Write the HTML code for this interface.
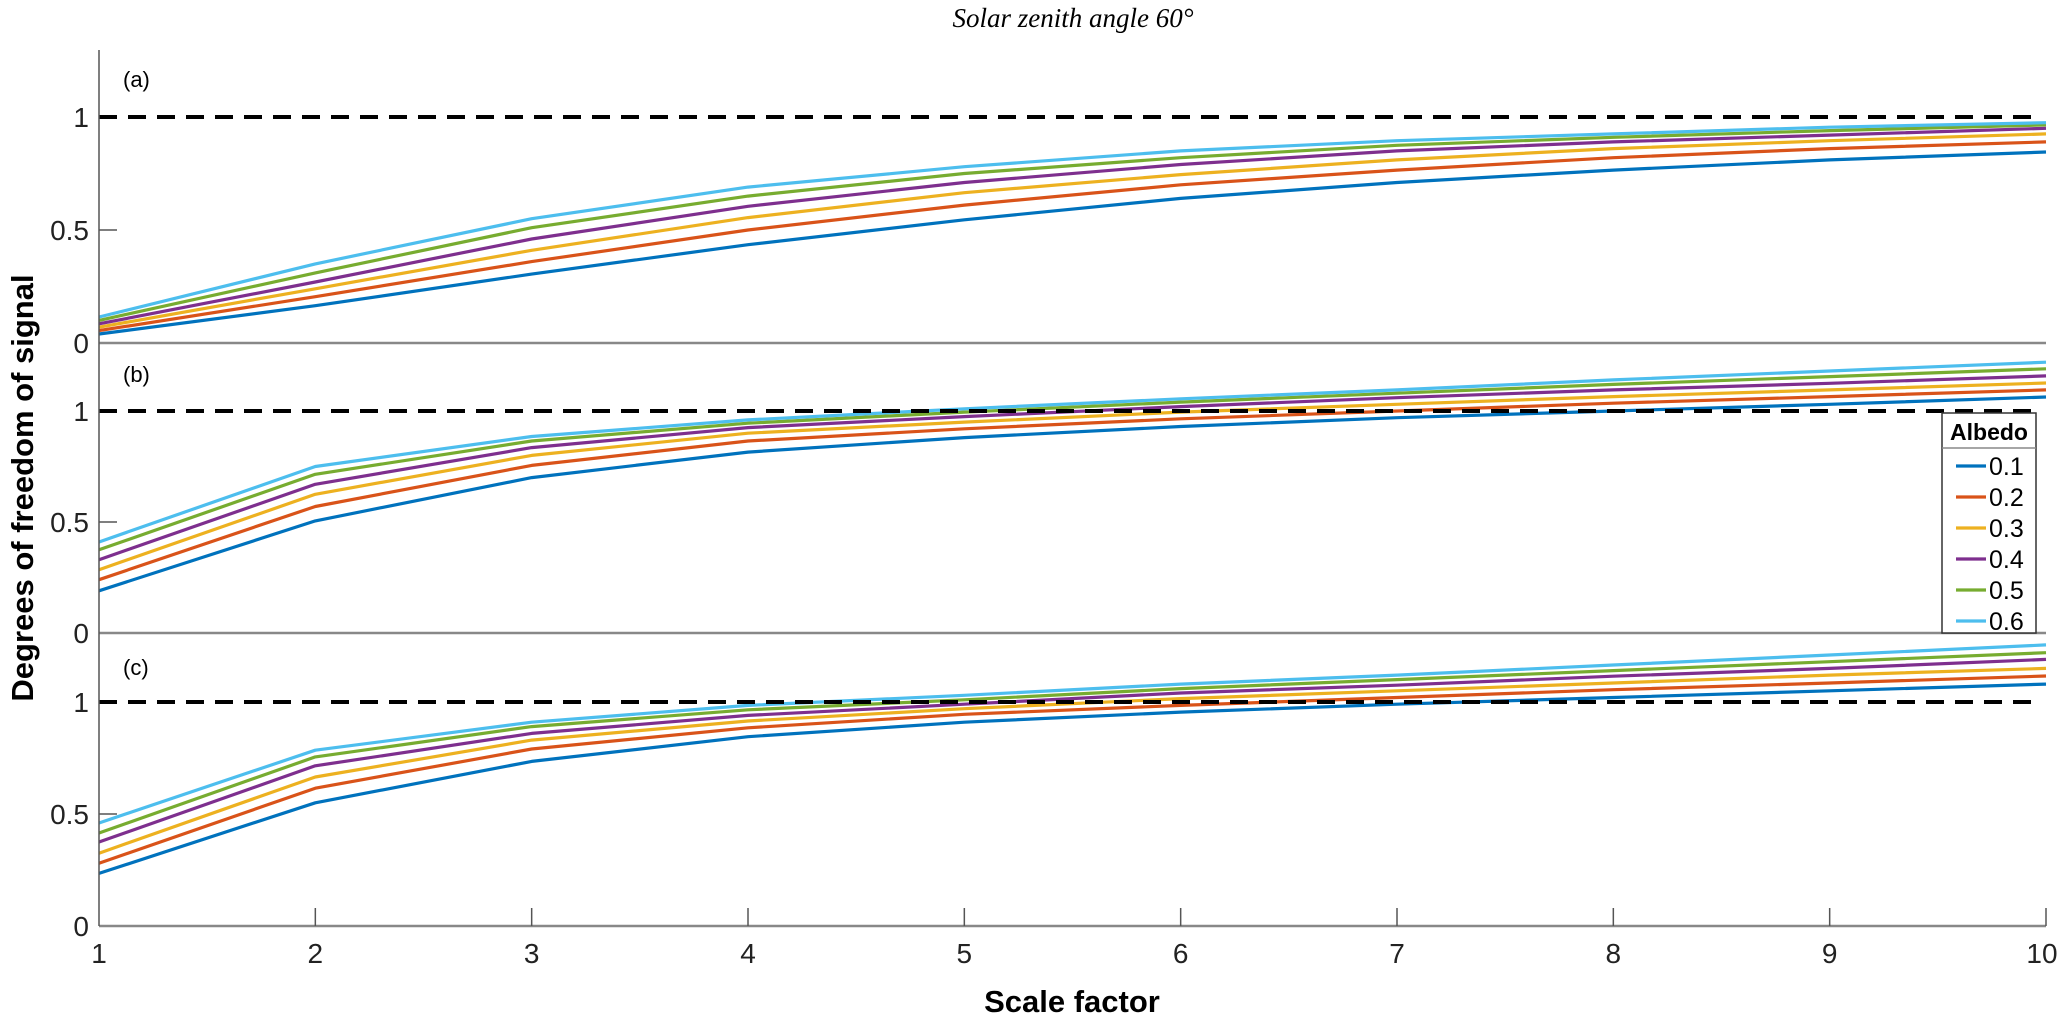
<!DOCTYPE html>
<html><head><meta charset="utf-8"><style>
html,body{margin:0;padding:0;background:#fff;}
svg{display:block;font-family:"Liberation Sans",sans-serif;}
</style></head><body>
<svg id="chart" width="2067" height="1017" viewBox="0 0 2067 1017" xmlns="http://www.w3.org/2000/svg">
<text x="1073" y="27" text-anchor="middle" font-family="Liberation Serif, serif" font-style="italic" font-size="27">Solar zenith angle 60°</text>
<text transform="translate(33,488) rotate(-90)" text-anchor="middle" font-weight="bold" font-size="31">Degrees of freedom of signal</text>
<text x="1072" y="1012" text-anchor="middle" font-weight="bold" font-size="31">Scale factor</text>
<g id="plots"></g>
</svg>
<script>
const xValues = [1,2,3,4,5,6,7,8,9,10];
const albedoLabels = ['0.1','0.2','0.3','0.4','0.5','0.6'];
const xTickLabels = ['1','2','3','4','5','6','7','8','9','10'];
const yTickLabels = ['0','0.5','1'];
const panelLabels = ['(a)','(b)','(c)'];
const panelA = [
 [0.04,0.165,0.305,0.435,0.545,0.64,0.71,0.765,0.81,0.845],
 [0.055,0.205,0.36,0.5,0.61,0.70,0.765,0.82,0.86,0.89],
 [0.07,0.24,0.41,0.555,0.665,0.745,0.81,0.86,0.895,0.925],
 [0.085,0.27,0.46,0.605,0.71,0.79,0.85,0.89,0.92,0.95],
 [0.10,0.31,0.51,0.65,0.75,0.82,0.875,0.91,0.94,0.965],
 [0.115,0.35,0.55,0.69,0.78,0.85,0.895,0.925,0.955,0.975]
];
const panelB = [
 [0.19,0.505,0.70,0.815,0.88,0.93,0.97,1.0,1.03,1.063],
 [0.24,0.57,0.755,0.865,0.92,0.965,1.0,1.035,1.065,1.095],
 [0.285,0.625,0.80,0.90,0.95,0.995,1.03,1.065,1.095,1.126],
 [0.33,0.67,0.835,0.925,0.975,1.02,1.06,1.095,1.125,1.158],
 [0.375,0.715,0.865,0.945,0.995,1.04,1.08,1.12,1.155,1.19],
 [0.41,0.75,0.885,0.96,1.01,1.055,1.095,1.14,1.18,1.22]
];
const panelC = [
 [0.235,0.55,0.735,0.845,0.91,0.955,0.99,1.02,1.05,1.08],
 [0.28,0.615,0.79,0.885,0.945,0.985,1.02,1.055,1.085,1.116],
 [0.325,0.665,0.83,0.915,0.97,1.015,1.05,1.085,1.12,1.15],
 [0.375,0.715,0.86,0.94,0.99,1.04,1.075,1.115,1.15,1.19],
 [0.415,0.755,0.89,0.965,1.01,1.06,1.10,1.14,1.18,1.22],
 [0.46,0.785,0.91,0.985,1.03,1.08,1.12,1.165,1.21,1.255]
];
const referenceLevel = 1;

const colors = ['#0072BD','#D95319','#EDB120','#7E2F8E','#77AC30','#4DBEEE'];
const NS = 'http://www.w3.org/2000/svg';
const g = document.getElementById('plots');
const X0 = 99, XU = (2046-99)/9;
const xScale = v => X0 + (v-1)*XU;
const panels = [
 {data: panelA, zero: 343, unit: 226, top: 50, name: 'a'},
 {data: panelB, zero: 633, unit: 222, top: 345, name: 'b'},
 {data: panelC, zero: 926, unit: 224, top: 638, name: 'c'}
];
function mk(tag, attrs, parent){
  const e = document.createElementNS(NS, tag);
  for (const k in attrs) e.setAttribute(k, attrs[k]);
  (parent||g).appendChild(e); return e;
}
panels.forEach((p, pi) => {
  const yScale = v => p.zero - v*p.unit;
  const pg = mk('g', {});
  
  
  const base = mk('line', {x1: X0, x2: 2046, y1: p.zero, y2: p.zero, stroke: '#888', 'stroke-width': 2.5}, pg);
  
  
  yTickLabels.forEach((t, i) => {
    const v = parseFloat(t), y = yScale(v);
    if (v === 0.5) {
      const tk = mk('line', {x1: X0, x2: X0+18, y1: y, y2: y, stroke: '#555', 'stroke-width': 1.5}, pg);
      
      
    }
    const tx = mk('text', {x: X0-10, y: y+10, 'text-anchor': 'end', 'font-size': 28, fill: '#222'}, pg);
    tx.textContent = t;
    
    
  });
  const pl = mk('text', {x: 123, y: p.top + 37, 'font-size': 22}, pg);
  pl.textContent = panelLabels[pi];
  
  
  p.data.forEach((s, si) => {
    const pts = s.map((v, i) => xScale(xValues[i]).toFixed(1) + ',' + yScale(v).toFixed(1)).join(' ');
    const pl2 = mk('polyline', {points: pts, fill: 'none', stroke: colors[si], 'stroke-width': 3.2, 'stroke-linejoin': 'round'}, pg);
    
    
  });
  const dl = mk('line', {x1: X0, x2: 2036, y1: yScale(referenceLevel), y2: yScale(referenceLevel), stroke: '#000', 'stroke-width': 4, 'stroke-dasharray': '18 11'}, pg);
  
  
});
const la = mk('line', {x1: X0, x2: X0, y1: 50, y2: 926, stroke: '#555', 'stroke-width': 1.5});


xTickLabels.forEach((t, i) => {
  const x = xScale(xValues[i]);
  if (i > 0) {
    const tk = mk('line', {x1: x, x2: x, y1: 926, y2: 908, stroke: '#555', 'stroke-width': 1.5});
    
    
  }
  const tx = mk('text', {x: i === 9 ? x - 4 : x, y: 963, 'text-anchor': 'middle', 'font-size': 28, fill: '#222'});
  tx.textContent = t;
  
  
});
const lg = mk('g', {});


const lb = mk('rect', {x: 1942, y: 413, width: 94, height: 220, fill: '#fff', stroke: '#333', 'stroke-width': 1.5}, lg);


const ls = mk('line', {x1: 1942, x2: 2036, y1: 448, y2: 448, stroke: '#888', 'stroke-width': 1.5}, lg);


const lt = mk('text', {x: 1989, y: 440, 'text-anchor': 'middle', 'font-weight': 'bold', 'font-size': 23}, lg);
lt.textContent = 'Albedo';


albedoLabels.forEach((a, i) => {
  const y = 466 + i*31;
  const e = mk('g', {}, lg);
  
  
  mk('line', {x1: 1956, x2: 1986, y1: y, y2: y, stroke: colors[i], 'stroke-width': 3.2}, e);
  const t = mk('text', {x: 1989, y: y + 9, 'font-size': 25}, e);
  t.textContent = a;
});
</script>
</body></html>
